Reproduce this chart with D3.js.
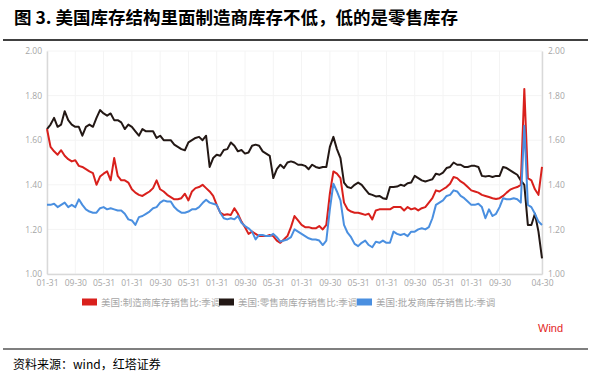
<!DOCTYPE html>
<html>
<head>
<meta charset="utf-8">
<script src="https://cdn.jsdelivr.net/npm/d3@7"></script>
<style>
  body { margin: 0; background: #fff; }
  svg { display: block; }
</style>
</head>
<body>
<svg id="chart" width="590" height="375"></svg>
<script>
// US inventory / sales ratios, monthly

var manuf = [
  1.65,1.57,1.55,1.535,1.555,1.53,1.515,1.505,1.51,1.485,
  1.48,1.47,1.46,1.452,1.40,1.437,1.45,1.46,1.42,1.52,
  1.44,1.42,1.42,1.41,1.38,1.365,1.355,1.35,1.36,1.37,
  1.385,1.42,1.38,1.37,1.355,1.345,1.335,1.335,1.34,1.36,
  1.33,1.37,1.385,1.39,1.40,1.385,1.37,1.35,1.31,1.275,
  1.265,1.268,1.265,1.295,1.27,1.235,1.21,1.18,1.19,1.18,
  1.17,1.17,1.17,1.175,1.17,1.15,1.14,1.155,1.17,1.21,
  1.26,1.24,1.22,1.21,1.21,1.205,1.205,1.215,1.20,1.22,
  1.36,1.46,1.45,1.43,1.32,1.29,1.28,1.275,1.275,1.27,
  1.265,1.27,1.245,1.285,1.29,1.29,1.29,1.29,1.30,1.30,
  1.30,1.285,1.30,1.29,1.295,1.285,1.295,1.30,1.32,1.34,
  1.375,1.37,1.38,1.39,1.405,1.435,1.43,1.415,1.405,1.39,
  1.375,1.37,1.365,1.355,1.35,1.345,1.34,1.336,1.34,1.35,
  1.365,1.378,1.385,1.39,1.40,1.83,1.43,1.42,1.38,1.355,1.48
];

var retail = [
  1.65,1.67,1.70,1.66,1.67,1.73,1.69,1.67,1.66,1.66,
  1.62,1.66,1.67,1.66,1.70,1.735,1.72,1.71,1.72,1.69,
  1.69,1.68,1.65,1.67,1.66,1.64,1.62,1.65,1.64,1.64,
  1.64,1.61,1.62,1.60,1.60,1.60,1.58,1.57,1.56,1.555,
  1.59,1.60,1.61,1.615,1.60,1.62,1.48,1.52,1.535,1.53,
  1.556,1.56,1.59,1.575,1.55,1.556,1.54,1.545,1.575,1.58,
  1.575,1.55,1.54,1.53,1.43,1.47,1.49,1.475,1.50,1.505,
  1.50,1.49,1.49,1.485,1.47,1.49,1.48,1.475,1.48,1.48,
  1.57,1.615,1.56,1.52,1.41,1.39,1.385,1.40,1.41,1.40,
  1.38,1.36,1.355,1.348,1.35,1.34,1.336,1.39,1.39,1.392,
  1.40,1.395,1.407,1.41,1.44,1.43,1.42,1.415,1.42,1.425,
  1.45,1.445,1.455,1.475,1.48,1.50,1.49,1.49,1.48,1.48,
  1.485,1.485,1.48,1.44,1.437,1.44,1.435,1.44,1.44,1.48,
  1.475,1.465,1.455,1.445,1.42,1.40,1.22,1.22,1.27,1.19,1.07
];

var wholesale = [
  1.31,1.31,1.315,1.30,1.31,1.32,1.30,1.31,1.30,1.335,
  1.31,1.29,1.28,1.275,1.275,1.295,1.30,1.29,1.295,1.29,
  1.285,1.285,1.27,1.245,1.24,1.22,1.255,1.26,1.27,1.28,
  1.295,1.30,1.32,1.33,1.325,1.325,1.30,1.285,1.275,1.275,
  1.28,1.29,1.29,1.30,1.318,1.333,1.32,1.315,1.31,1.275,
  1.25,1.245,1.25,1.245,1.26,1.23,1.215,1.205,1.19,1.155,
  1.175,1.175,1.17,1.17,1.18,1.165,1.145,1.15,1.155,1.165,
  1.20,1.19,1.18,1.17,1.16,1.155,1.155,1.15,1.13,1.15,
  1.29,1.405,1.37,1.33,1.22,1.185,1.165,1.135,1.125,1.14,
  1.15,1.13,1.12,1.145,1.14,1.15,1.14,1.14,1.19,1.18,
  1.175,1.18,1.17,1.19,1.19,1.20,1.205,1.20,1.21,1.25,
  1.31,1.32,1.33,1.35,1.355,1.375,1.37,1.35,1.34,1.325,
  1.31,1.31,1.315,1.30,1.25,1.29,1.26,1.27,1.30,1.34,
  1.335,1.335,1.34,1.335,1.32,1.665,1.31,1.30,1.27,1.235,1.22
];

var xLabels = ["01-31","09-30","05-31","01-31","09-30","05-31","01-31","09-30","05-31",
  "01-31","09-30","05-31","01-31","09-30","05-31","01-31","09-30","04-30"];
var yTicks = [1.00, 1.20, 1.40, 1.60, 1.80, 2.00];

var seriesNames = ["美国:制造商库存销售比:季调", "美国:零售商库存销售比:季调", "美国:批发商库存销售比:季调"];
var seriesColors = ["#d9201c", "#231815", "#4a8fe0"];

var svg = d3.select("#chart");
var n = manuf.length;

var x = d3.scaleLinear().domain([0, n - 1]).range([47, 542]);
var y = d3.scaleLinear().domain([1, 2]).range([274, 51]);

// tick index every 8 months, last label at the end
var xTickIdx = xLabels.map(function (d, i) {
  return i < xLabels.length - 1 ? i * 8 : n - 1;
});

// title
svg.append("text")
  .attr("x", 14)
  .attr("y", 24)
  .attr("font-family", "'Noto Sans CJK SC', sans-serif")
  .attr("font-weight", "bold")
  .attr("font-size", "17.5px")
  .attr("fill", "#000")
  .text("图 3. 美国库存结构里面制造商库存不低，低的是零售库存");

svg.append("line")
  .attr("x1", 3).attr("x2", 588)
  .attr("y1", 40).attr("y2", 40)
  .attr("stroke", "#000").attr("stroke-width", 1.5);

// faint grid
svg.append("g")
  .selectAll("line")
  .data(yTicks)
  .enter()
  .append("line")
  .attr("x1", 47).attr("x2", 542)
  .attr("y1", function (d) { return y(d); })
  .attr("y2", function (d) { return y(d); })
  .attr("stroke", "#f4f4f4");

svg.append("g")
  .selectAll("line")
  .data(xTickIdx)
  .enter()
  .append("line")
  .attr("x1", function (d) { return x(d); })
  .attr("x2", function (d) { return x(d); })
  .attr("y1", 51).attr("y2", 274)
  .attr("stroke", "#f4f4f4");

// axes
var fmt = d3.format(".2f");

var yLeft = svg.append("g")
  .attr("transform", "translate(47,0)")
  .call(d3.axisLeft(y).tickValues(yTicks).tickFormat(fmt).tickSize(0).tickPadding(5));

var yRight = svg.append("g")
  .attr("transform", "translate(542,0)")
  .call(d3.axisRight(y).tickValues(yTicks).tickFormat(fmt).tickSize(0).tickPadding(6));

var xAxis = svg.append("g")
  .attr("transform", "translate(0,274)")
  .call(d3.axisBottom(x).tickValues(xTickIdx)
    .tickFormat(function (d, i) { return xLabels[i]; })
    .tickSize(0).tickPadding(6));

[yLeft, yRight, xAxis].forEach(function (g) {
  g.select(".domain").attr("stroke", "#d9d9d9").attr("stroke-width", 1.5);
  g.selectAll("text")
    .attr("font-family", "'Open Sans', sans-serif")
    .attr("font-size", "8.5px")
    .attr("fill", "#a6a6a6");
});

// lines
var line = d3.line()
  .x(function (d, i) { return x(i); })
  .y(function (d) { return y(d); });

[retail, manuf, wholesale].forEach(function (s, k) {
  var c = [seriesColors[1], seriesColors[0], seriesColors[2]][k];
  svg.append("path")
    .datum(s)
    .attr("d", line)
    .attr("fill", "none")
    .attr("stroke", c)
    .attr("stroke-width", 2)
    .attr("stroke-linejoin", "round");
});

// legend
var legendX = [82, 219, 357];
var legend = svg.append("g")
  .selectAll("g")
  .data(seriesNames)
  .enter()
  .append("g")
  .attr("transform", function (d, i) { return "translate(" + legendX[i] + ",302)"; });

legend.append("rect")
  .attr("x", 0).attr("y", -3.5)
  .attr("width", 15).attr("height", 7)
  .attr("fill", function (d, i) { return seriesColors[i]; });

legend.append("text")
  .attr("x", 19)
  .attr("y", 3.5)
  .attr("font-family", "'Noto Sans CJK SC', sans-serif")
  .attr("font-size", "9.5px")
  .attr("fill", "#a6a6a6")
  .text(function (d) { return d; });

svg.append("text")
  .attr("x", 538)
  .attr("y", 332)
  .attr("font-family", "'Liberation Sans', Arial, sans-serif")
  .attr("font-size", "11px")
  .attr("fill", "#e3251d")
  .text("Wind");

// source
svg.append("line")
  .attr("x1", 3).attr("x2", 588)
  .attr("y1", 349).attr("y2", 349)
  .attr("stroke", "#000").attr("stroke-width", 1.2);

svg.append("text")
  .attr("x", 13)
  .attr("y", 369)
  .attr("font-family", "'Noto Sans CJK SC', sans-serif")
  .attr("font-size", "12px")
  .attr("fill", "#000")
  .text("资料来源：wind，红塔证券");
</script>
</body>
</html>
